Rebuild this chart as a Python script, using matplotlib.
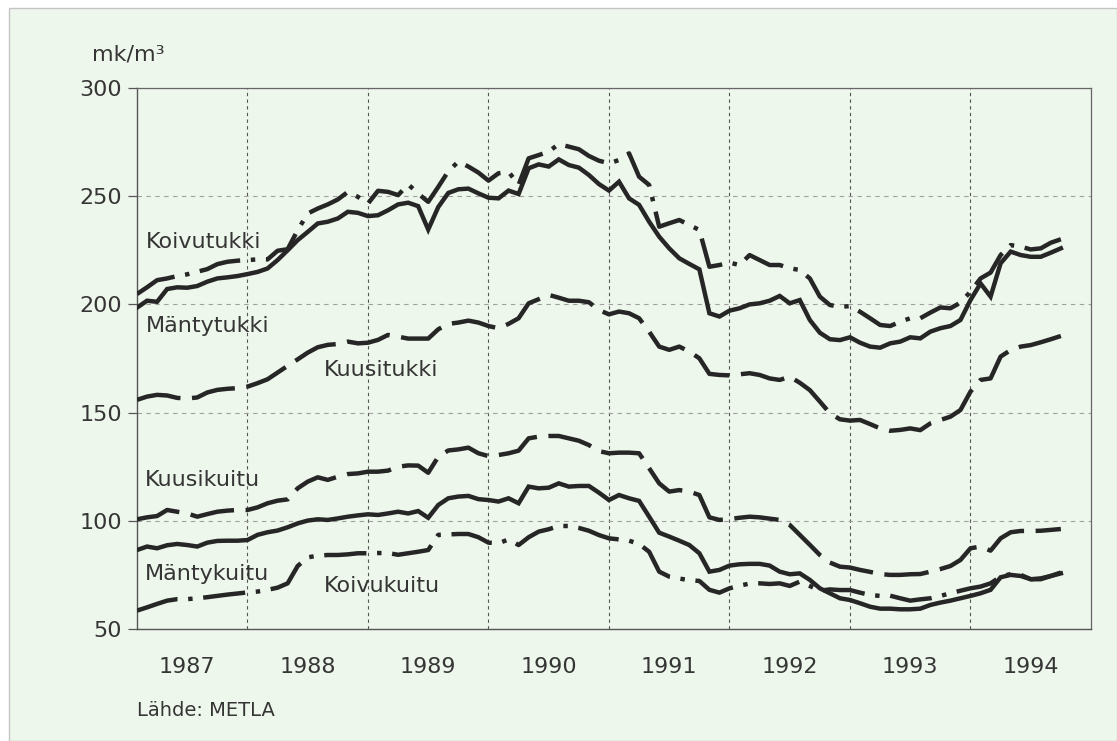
import numpy as np
import pandas as pd
import matplotlib
matplotlib.use("Agg")
import matplotlib.pyplot as plt
from matplotlib.patches import Rectangle

# ---------------- data (monthly, Feb 1987 - Oct 1994) ----------------
months = pd.date_range("1987-02-01", "1994-10-01", freq="MS")
x_years = months.year + (months.month - 1) / 12.0

koivutukki = [
    204.8, 207.9, 211.2, 212.0, 213.1, 213.9, 215.1, 216.3, 218.6, 219.7, 220.2, 220.5,
    220.8, 220.8, 224.8, 225.5, 234.3, 242.0, 244.3, 246.2, 248.5, 252.0, 249.7, 246.6,
    252.5, 252.0, 250.5, 255.5, 251.2, 247.4, 254.3, 261.5, 266.0, 263.7, 260.9, 257.2,
    260.6, 261.3, 255.2, 267.5, 269.0, 270.6, 274.1, 272.9, 271.7, 268.6, 266.4, 265.2,
    266.7, 269.8, 259.0, 255.2, 235.9, 237.5, 239.0, 236.7, 234.4, 217.4, 218.2, 219.3,
    218.2, 222.8, 220.5, 218.2, 218.2, 216.7, 215.9, 212.0, 203.6, 199.7, 198.9, 199.2,
    196.6, 193.6, 190.5, 190.0, 192.0, 193.6, 193.6, 196.2, 198.6, 198.2, 200.8, 205.9,
    212.0, 214.7, 222.8, 227.4, 226.7, 225.4, 225.9, 228.5, 230.1]

mantytukki = [
    198.5, 201.7, 201.2, 207.1, 207.9, 207.7, 208.5, 210.5, 212.0, 212.5, 213.1, 214.0,
    215.0, 216.6, 220.5, 225.0, 229.7, 233.5, 237.4, 238.2, 239.7, 242.8, 242.3, 240.8,
    241.2, 243.5, 246.2, 247.0, 245.4, 234.6, 245.0, 251.5, 253.2, 253.5, 251.3, 249.3,
    249.0, 252.6, 251.0, 262.9, 264.7, 263.7, 267.0, 264.4, 263.2, 259.8, 255.6, 252.6,
    256.7, 249.0, 246.0, 238.2, 231.3, 225.9, 221.3, 218.7, 216.2, 195.9, 194.4, 197.1,
    198.2, 200.0, 200.5, 201.7, 203.9, 200.5, 202.0, 192.8, 186.9, 183.9, 183.5, 184.8,
    182.3, 180.5, 180.0, 182.0, 182.8, 184.8, 184.3, 187.4, 189.0, 190.0, 192.8, 202.0,
    209.7, 203.6, 219.0, 224.4, 222.8, 222.0, 222.0, 223.9, 225.9]

kuusitukki = [
    155.9, 157.4, 158.2, 157.9, 156.8, 156.5, 157.0, 159.3, 160.5, 161.0, 161.3, 162.0,
    163.6, 165.4, 168.5, 171.6, 174.6, 177.7, 180.2, 181.3, 181.7, 182.8, 182.0, 182.3,
    183.6, 185.9, 185.1, 184.2, 184.2, 184.2, 188.5, 191.0, 191.6, 192.5, 191.6, 190.0,
    189.0, 191.0, 193.6, 200.5, 202.4, 204.4, 203.1, 201.7, 201.7, 201.0, 197.4, 195.4,
    196.7, 195.9, 193.6, 187.4, 180.5, 179.0, 180.5, 178.2, 175.1, 167.9, 167.4, 167.2,
    167.7, 168.2, 167.4, 165.8, 165.1, 166.6, 163.8, 160.4, 155.1, 149.7, 146.9, 146.3,
    146.6, 144.7, 142.7, 141.6, 142.0, 142.7, 141.9, 145.0, 146.6, 148.1, 151.2, 159.7,
    165.1, 165.8, 175.9, 178.9, 180.5, 181.2, 182.5, 183.9, 185.4]

kuusikuitu = [
    100.7, 101.6, 102.2, 105.0, 104.2, 103.4, 101.9, 103.1, 104.2, 104.7, 105.0, 105.0,
    106.2, 108.1, 109.3, 109.9, 115.0, 118.1, 120.1, 118.9, 120.4, 121.6, 121.9, 122.7,
    122.7, 123.2, 125.0, 125.6, 125.5, 122.2, 129.6, 132.5, 133.0, 133.8, 131.2, 129.9,
    130.4, 131.2, 132.4, 138.1, 138.9, 139.2, 139.2, 138.1, 137.0, 135.0, 132.2, 131.2,
    131.5, 131.5, 131.2, 124.3, 117.3, 113.5, 114.2, 113.5, 111.9, 101.6, 100.4, 100.8,
    101.4, 101.9, 101.6, 101.0, 100.4, 98.1, 93.5, 88.9, 84.2, 80.7, 78.8, 78.4,
    77.3, 76.4, 75.4, 75.0, 75.0, 75.3, 75.4, 76.5, 77.7, 79.1, 81.9, 87.3,
    88.1, 86.2, 91.9, 94.7, 95.3, 95.3, 95.4, 95.8, 96.2]

mantykuitu = [
    86.5, 88.1, 87.3, 88.7, 89.3, 88.8, 88.1, 89.9, 90.7, 90.8, 90.8, 91.1,
    93.5, 94.7, 95.5, 97.0, 98.8, 100.1, 100.7, 100.4, 101.1, 101.9, 102.5, 103.0,
    102.7, 103.4, 104.2, 103.4, 104.5, 101.4, 107.3, 110.4, 111.2, 111.5, 110.0, 109.6,
    108.9, 110.4, 108.1, 115.8, 115.0, 115.3, 117.3, 115.8, 116.1, 116.1, 113.0, 109.6,
    111.9, 110.4, 109.2, 101.9, 94.5, 92.7, 90.8, 88.8, 85.0, 76.5, 77.3, 79.3,
    79.9, 80.1, 80.1, 79.3, 76.5, 75.3, 75.7, 72.7, 68.8, 66.5, 64.2, 63.4,
    61.9, 60.3, 59.4, 59.4, 59.1, 59.1, 59.4, 61.1, 62.2, 63.1, 64.2, 65.3,
    66.5, 68.1, 73.9, 75.0, 74.5, 73.0, 73.4, 74.5, 75.7]

koivukuitu = [
    58.5, 60.0, 61.6, 63.1, 63.8, 63.8, 64.2, 64.7, 65.3, 65.9, 66.4, 66.9,
    67.3, 68.1, 69.1, 71.1, 79.1, 83.1, 83.9, 84.2, 84.2, 84.5, 85.0, 85.0,
    85.1, 85.1, 84.3, 85.0, 85.7, 86.5, 93.5, 93.7, 93.9, 93.9, 92.4, 89.9,
    89.6, 91.4, 88.8, 92.4, 95.0, 96.1, 97.6, 97.6, 96.7, 95.4, 93.4, 91.9,
    91.4, 90.8, 89.3, 85.7, 76.5, 74.2, 73.3, 72.6, 72.2, 68.1, 66.8, 68.8,
    70.0, 71.0, 71.1, 70.8, 71.1, 69.9, 71.9, 69.9, 67.7, 68.3, 68.0, 68.0,
    66.8, 65.7, 65.3, 65.4, 64.2, 63.1, 63.7, 64.2, 65.3, 66.5, 67.7, 68.8,
    69.6, 71.1, 74.2, 75.4, 75.0, 73.0, 73.0, 74.5, 76.1]

year_labels = ["1987", "1988", "1989", "1990", "1991", "1992", "1993", "1994"]
y_ticks = [50, 100, 150, 200, 250, 300]

# ---------------- styling ----------------
BG = "#eef7ec"
INK = "#262626"
TXT = "#353535"
plt.rcParams["font.family"] = ["DejaVu Sans"]

fig = plt.figure(figsize=(11.17, 7.41), dpi=100, facecolor="white")
frame = Rectangle((9 / 1117, 0), 1 - 9 / 1117, (741 - 8) / 741,
                  transform=fig.transFigure, facecolor=BG,
                  edgecolor="#c4c4c4", lw=1.0, zorder=-10)
fig.add_artist(frame)

ax = fig.add_axes([137 / 1117, (741 - 629) / 741, (1091 - 137) / 1117, (629 - 88) / 741])
ax.set_facecolor("none")
ax.set_zorder(5)

LW = 3.2
DASH = (0, (10, 2.6))
DASHDOT = (0, (9.5, 2.4, 1.0, 2.4))

series = [
    (koivutukki, DASHDOT),
    (mantytukki, "-"),
    (kuusitukki, DASH),
    (kuusikuitu, DASH),
    (mantykuitu, "-"),
    (koivukuitu, DASHDOT),
]
for vals, ls in series:
    ax.plot(x_years, vals, color=INK, lw=LW, linestyle=ls,
            dash_capstyle="butt", solid_joinstyle="miter", zorder=3)

ax.set_xlim(1987 + 1 / 12, 1995.0)
ax.set_ylim(50, 300)

# x ticks: major at year boundaries (grid), minor labels at mid-year
ax.set_xticks(np.arange(1988, 1995))
ax.set_xticklabels([])
ax.set_xticks([int(y) + 0.5 for y in year_labels], minor=True)
ax.set_xticklabels(year_labels, minor=True)
ax.tick_params(axis="x", which="both", length=0)
ax.tick_params(axis="x", which="minor", pad=20, labelsize=16, labelcolor=TXT)

ax.set_yticks(y_ticks)
ax.tick_params(axis="y", which="major", length=6.5, width=0.9, color="#555555",
               pad=4.3, labelsize=16, labelcolor=TXT, direction="out")

ax.xaxis.grid(True, which="major", color="#555555", lw=0.8, linestyle=(0, (3, 3)))
ax.yaxis.grid(True, which="major", color="#a0a0a0", lw=0.8, linestyle=(0, (4, 4)))
ax.set_axisbelow(True)

for side in ["left", "bottom"]:
    ax.spines[side].set_color("#555555")
    ax.spines[side].set_linewidth(1.0)
for side in ["top", "right"]:
    ax.spines[side].set_color("#666666")
    ax.spines[side].set_linewidth(0.9)

# series labels
lab = dict(fontsize=16, color=TXT, ha="left", va="baseline")
ax.text(1987.155, 225.9, "Koivutukki", **lab)
ax.text(1987.155, 187.4, "Mäntytukki", **lab)
ax.text(1988.63, 166.9, "Kuusitukki", **lab)
ax.text(1987.147, 116.1, "Kuusikuitu", **lab)
ax.text(1987.147, 72.6, "Mäntykuitu", **lab)
ax.text(1988.63, 67.2, "Koivukuitu", **lab)

fig.text(92 / 1117, (741 - 60) / 741, "mk/m³", fontsize=16, color=TXT,
         ha="left", va="baseline")
fig.text(137 / 1117, (741 - 716) / 741, "Lähde: METLA", fontsize=14, color=TXT,
         ha="left", va="baseline")

fig.savefig("out.png", dpi=100, facecolor="white")
